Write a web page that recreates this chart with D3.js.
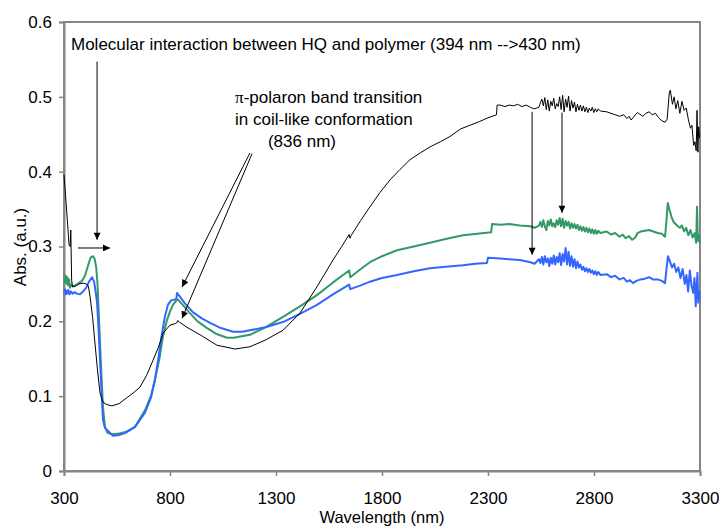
<!DOCTYPE html>
<html>
<head>
<meta charset="utf-8">
<script src="https://cdn.jsdelivr.net/npm/d3@7"></script>
<style>
  body { margin: 0; background: #fff; }
  svg text { font-family: Arial, "Liberation Sans", sans-serif; font-size: 17px; fill: #000; }
</style>
</head>
<body>
<div id="chart"></div>
<script>
//////////////////////////////////////////////////////////////////////////////
// Data: [wavelength nm, absorbance]

var xTicks = [300, 800, 1300, 1800, 2300, 2800, 3300];
var yTicks = [0, 0.1, 0.2, 0.3, 0.4, 0.5, 0.6];

var blackSeries = [
  [300,0.396],[312,0.350],[324,0.302],[329,0.300],[332,0.322],[336,0.255],[340,0.246],[355,0.247],
  [370,0.250],[390,0.251],[405,0.250],[415,0.247],[423,0.233],[435,0.205],[446,0.171],[458,0.135],
  [470,0.104],[484,0.092],[500,0.089],[526,0.087],[560,0.090],[597,0.098],[630,0.105],[658,0.112],
  [690,0.128],[720,0.148],[745,0.165],[767,0.184],[800,0.195],[825,0.197],[832,0.198],[836,0.201],
  [845,0.199],[880,0.192],[942,0.182],[1022,0.168],[1107,0.163],[1177,0.166],[1250,0.175],[1333,0.188],
  [1413,0.211],[1493,0.246],[1569,0.282],[1610,0.300],[1645,0.316],[1649,0.311],[1655,0.315],[1700,0.335],
  [1743,0.353],[1790,0.372],[1838,0.389],[1885,0.403],[1932,0.416],[1980,0.425],[2026,0.433],[2075,0.440],
  [2121,0.447],[2170,0.457],[2215,0.462],[2260,0.467],[2300,0.472],[2340,0.476],[2343,0.489],[2357,0.489],
  [2380,0.487],[2400,0.489],[2420,0.488],[2440,0.490],[2460,0.487],[2480,0.489],[2500,0.486],[2515,0.484],
  [2530,0.485],[2540,0.486],[2547,0.492],[2554,0.497],[2561,0.488],[2568,0.499],[2575,0.483],[2582,0.496],
  [2589,0.481],[2596,0.494],[2603,0.488],[2610,0.498],[2617,0.484],[2624,0.491],[2631,0.487],[2638,0.500],
  [2645,0.483],[2652,0.502],[2659,0.480],[2666,0.497],[2673,0.486],[2680,0.501],[2687,0.481],[2694,0.495],
  [2701,0.485],[2708,0.493],[2715,0.480],[2722,0.490],[2729,0.482],[2736,0.489],[2743,0.481],[2750,0.488],
  [2757,0.480],[2764,0.486],[2771,0.479],[2778,0.485],[2785,0.481],[2792,0.486],[2799,0.479],[2806,0.484],
  [2813,0.480],[2820,0.484],[2830,0.481],[2860,0.480],[2880,0.478],[2900,0.476],[2920,0.474],[2940,0.476],
  [2955,0.471],[2965,0.474],[2975,0.469],[2984,0.472],[2995,0.476],[3005,0.479],[3015,0.477],[3030,0.474],
  [3045,0.478],[3060,0.480],[3075,0.476],[3090,0.478],[3105,0.472],[3120,0.468],[3135,0.466],[3145,0.470],
  [3155,0.505],[3160,0.509],[3170,0.490],[3178,0.500],[3186,0.484],[3195,0.495],[3205,0.478],[3215,0.494],
  [3225,0.482],[3235,0.485],[3245,0.470],[3255,0.458],[3262,0.462],[3270,0.435],[3276,0.440],[3282,0.428],
  [3286,0.482],[3290,0.426],[3294,0.460],[3298,0.445]
];

var greenSeries = [
  [300,0.258],[304,0.252],[308,0.261],[312,0.250],[316,0.259],[320,0.248],[324,0.256],[328,0.245],
  [334,0.249],[340,0.247],[352,0.248],[365,0.250],[385,0.254],[400,0.262],[415,0.276],[425,0.285],
  [437,0.287],[445,0.283],[452,0.272],[458,0.250],[464,0.210],[470,0.171],[477,0.125],[484,0.085],
  [493,0.059],[505,0.051],[526,0.049],[560,0.050],[590,0.052],[635,0.059],[682,0.081],[710,0.100],
  [729,0.122],[750,0.150],[767,0.180],[786,0.202],[800,0.213],[814,0.222],[830,0.228],[838,0.229],
  [860,0.222],[894,0.211],[930,0.200],[975,0.191],[1020,0.183],[1069,0.178],[1100,0.178],[1177,0.182],
  [1250,0.192],[1333,0.206],[1413,0.220],[1493,0.235],[1569,0.252],[1645,0.268],[1650,0.259],[1700,0.270],
  [1743,0.279],[1800,0.287],[1871,0.295],[1950,0.300],[2026,0.305],[2100,0.310],[2182,0.315],[2250,0.317],
  [2315,0.319],[2319,0.330],[2360,0.329],[2400,0.330],[2450,0.328],[2500,0.327],[2520,0.325],
  [2540,0.328],[2547,0.333],[2554,0.326],[2561,0.335],[2568,0.327],[2575,0.322],[2582,0.334],[2589,0.328],
  [2596,0.336],[2603,0.327],[2610,0.331],[2617,0.326],[2624,0.335],[2631,0.329],[2638,0.338],[2645,0.327],
  [2652,0.337],[2659,0.325],[2666,0.334],[2673,0.328],[2680,0.333],[2687,0.324],[2694,0.331],[2701,0.325],
  [2708,0.330],[2715,0.324],[2722,0.329],[2729,0.322],[2736,0.327],[2743,0.321],[2750,0.326],[2757,0.320],
  [2764,0.325],[2771,0.319],[2778,0.324],[2785,0.318],[2792,0.323],[2799,0.317],[2806,0.322],[2813,0.317],
  [2820,0.321],[2830,0.318],[2860,0.320],[2880,0.316],[2900,0.318],[2920,0.313],[2935,0.316],[2950,0.311],
  [2965,0.314],[2980,0.309],[2995,0.312],[3005,0.318],[3020,0.320],[3040,0.321],[3060,0.322],[3080,0.320],
  [3100,0.318],[3120,0.317],[3135,0.313],[3142,0.335],[3148,0.358],[3155,0.350],[3165,0.340],[3175,0.333],
  [3185,0.330],[3195,0.327],[3205,0.325],[3215,0.328],[3225,0.320],[3235,0.325],[3245,0.315],[3255,0.322],
  [3265,0.312],[3275,0.318],[3282,0.305],[3286,0.353],[3290,0.308],[3295,0.315],[3298,0.305]
];

var blueSeries = [
  [300,0.239],[304,0.243],[308,0.236],[312,0.241],[316,0.237],[320,0.242],[326,0.236],[332,0.240],
  [340,0.237],[350,0.239],[360,0.237],[375,0.236],[390,0.240],[405,0.245],[418,0.253],[432,0.259],
  [442,0.253],[450,0.238],[456,0.225],[463,0.190],[470,0.148],[479,0.095],[484,0.068],[493,0.058],
  [503,0.055],[531,0.047],[560,0.048],[590,0.051],[635,0.059],[682,0.078],[710,0.098],[729,0.122],
  [745,0.150],[760,0.180],[775,0.205],[790,0.222],[805,0.228],[820,0.229],[830,0.230],[833,0.238],
  [847,0.233],[870,0.224],[909,0.212],[950,0.204],[989,0.198],[1040,0.191],[1097,0.186],[1140,0.186],
  [1177,0.188],[1250,0.192],[1333,0.199],[1413,0.210],[1493,0.222],[1569,0.236],[1645,0.249],[1650,0.243],
  [1700,0.248],[1743,0.253],[1800,0.258],[1871,0.262],[1950,0.267],[2026,0.271],[2100,0.273],[2182,0.275],
  [2240,0.277],[2295,0.278],[2300,0.285],[2357,0.284],[2400,0.283],[2450,0.282],[2500,0.279],[2520,0.277],
  [2540,0.283],[2547,0.278],[2554,0.286],[2561,0.276],[2568,0.287],[2575,0.279],[2582,0.284],[2589,0.274],
  [2596,0.285],[2603,0.277],[2610,0.288],[2617,0.276],[2624,0.286],[2631,0.279],[2638,0.291],[2645,0.275],
  [2652,0.290],[2659,0.280],[2666,0.298],[2673,0.276],[2680,0.293],[2687,0.274],[2694,0.287],[2701,0.273],
  [2708,0.283],[2715,0.271],[2722,0.280],[2729,0.272],[2736,0.276],[2743,0.269],[2750,0.273],[2757,0.267],
  [2764,0.271],[2771,0.266],[2778,0.270],[2785,0.265],[2792,0.268],[2799,0.263],[2806,0.267],[2813,0.262],
  [2820,0.266],[2830,0.262],[2860,0.263],[2880,0.259],[2900,0.261],[2920,0.256],[2940,0.258],[2955,0.253],
  [2970,0.255],[2984,0.251],[3000,0.254],[3020,0.256],[3040,0.257],[3060,0.259],[3078,0.256],[3100,0.256],
  [3120,0.254],[3135,0.251],[3142,0.270],[3149,0.287],[3158,0.280],[3168,0.272],[3178,0.277],[3188,0.266],
  [3198,0.272],[3208,0.258],[3218,0.270],[3228,0.250],[3236,0.262],[3244,0.240],[3252,0.268],[3260,0.248],
  [3268,0.238],[3274,0.258],[3280,0.220],[3284,0.245],[3288,0.265],[3292,0.225],[3296,0.240],[3298,0.230]
];

// annotation arrows, in data units: [from, to]
var arrows = [
  [[456, 0.547], [456, 0.309]],
  [[366, 0.298], [517, 0.298]],
  [[1177, 0.425], [857, 0.246]],
  [[1187, 0.424], [857, 0.204]],
  [[2508, 0.480], [2508, 0.289]],
  [[2649, 0.479], [2649, 0.345]]
];

var notes = [
  {x: 333, y: 0.563, text: "Molecular interaction between HQ and polymer (394 nm -->430 nm)"},
  {x: 1107, y: 0.492, text: "-polaron band transition", pi: true},
  {x: 1107, y: 0.462, text: "in coil-like conformation"},
  {x: 1262, y: 0.433, text: "(836 nm)"}
];

//////////////////////////////////////////////////////////////////////////////
// Layout

var width = 719, height = 530;
var plotLeft = 64, plotRight = 700, plotTop = 22, plotBottom = 471;
var axisColor = "#868686";

var xScale = d3.scaleLinear().domain([300, 3300]).range([plotLeft, plotRight]);
var yScale = d3.scaleLinear().domain([0, 0.6]).range([plotBottom, plotTop]);

var svg = d3.select("#chart").append("svg")
    .attr("width", width)
    .attr("height", height);

svg.append("defs").append("marker")
    .attr("id", "head")
    .attr("markerUnits", "userSpaceOnUse")
    .attr("viewBox", "0 0 10 10")
    .attr("refX", 10).attr("refY", 5)
    .attr("markerWidth", 9).attr("markerHeight", 7)
    .attr("orient", "auto")
  .append("path")
    .attr("d", "M0,0 L10,5 L0,10 z")
    .attr("fill", "#000");

// plot frame
svg.append("rect")
    .attr("x", plotLeft).attr("y", plotTop)
    .attr("width", plotRight - plotLeft).attr("height", plotBottom - plotTop)
    .attr("fill", "none")
    .attr("stroke", axisColor)
    .attr("stroke-width", 2);

// axes
var xAxis = svg.append("g")
    .attr("transform", "translate(0," + plotBottom + ")")
    .call(d3.axisBottom(xScale).tickValues(xTicks).tickSize(5).tickPadding(16).tickFormat(d3.format("d")));
var yAxis = svg.append("g")
    .attr("transform", "translate(" + plotLeft + ",0)")
    .call(d3.axisLeft(yScale).tickValues(yTicks).tickSize(5).tickPadding(7).tickFormat(function(d) { return d === 0 ? "0" : d3.format(".1f")(d); }));

[xAxis, yAxis].forEach(function(a) {
  a.select(".domain").attr("stroke", axisColor).attr("stroke-width", 2);
  a.selectAll(".tick line").attr("stroke", axisColor).attr("stroke-width", 1.5);
  a.selectAll(".tick text").attr("font-size", 17).attr("font-family", "Arial, 'Liberation Sans', sans-serif").attr("fill", "#000");
});

svg.append("text")
    .attr("x", 382)
    .attr("y", 523)
    .attr("text-anchor", "middle")
    .style("font-size", "16.5px")
    .text("Wavelength (nm)");

svg.append("text")
    .attr("transform", "translate(26,247) rotate(-90)")
    .attr("text-anchor", "middle")
    .text("Abs. (a.u.)");

// spectra
var line = d3.line()
    .x(function(d) { return xScale(d[0]); })
    .y(function(d) { return yScale(d[1]); });

var series = [
  {data: greenSeries, color: "#339966", w: 2},
  {data: blueSeries, color: "#3366ff", w: 2},
  {data: blackSeries, color: "#000000", w: 1}
];

svg.append("g").selectAll("path")
    .data(series)
    .enter()
    .append("path")
    .attr("d", function(d) { return line(d.data); })
    .attr("fill", "none")
    .attr("stroke", function(d) { return d.color; })
    .attr("stroke-width", function(d) { return d.w; })
    .attr("stroke-linejoin", "round");

// annotations
svg.append("g").selectAll("line")
    .data(arrows)
    .enter()
    .append("line")
    .attr("x1", function(d) { return xScale(d[0][0]); })
    .attr("y1", function(d) { return yScale(d[0][1]); })
    .attr("x2", function(d) { return xScale(d[1][0]); })
    .attr("y2", function(d) { return yScale(d[1][1]); })
    .attr("stroke", "#000")
    .attr("stroke-width", 1)
    .attr("marker-end", "url(#head)");

var noteText = svg.append("g").selectAll("text")
    .data(notes)
    .enter()
    .append("text")
    .attr("x", function(d) { return xScale(d.x); })
    .attr("y", function(d) { return yScale(d.y); });

noteText.filter(function(d) { return d.pi; })
    .append("tspan")
    .attr("font-family", "'Liberation Serif', 'DejaVu Serif', serif")
    .text("\u03c0");
noteText.append("tspan").text(function(d) { return d.text; });
</script>
</body>
</html>
